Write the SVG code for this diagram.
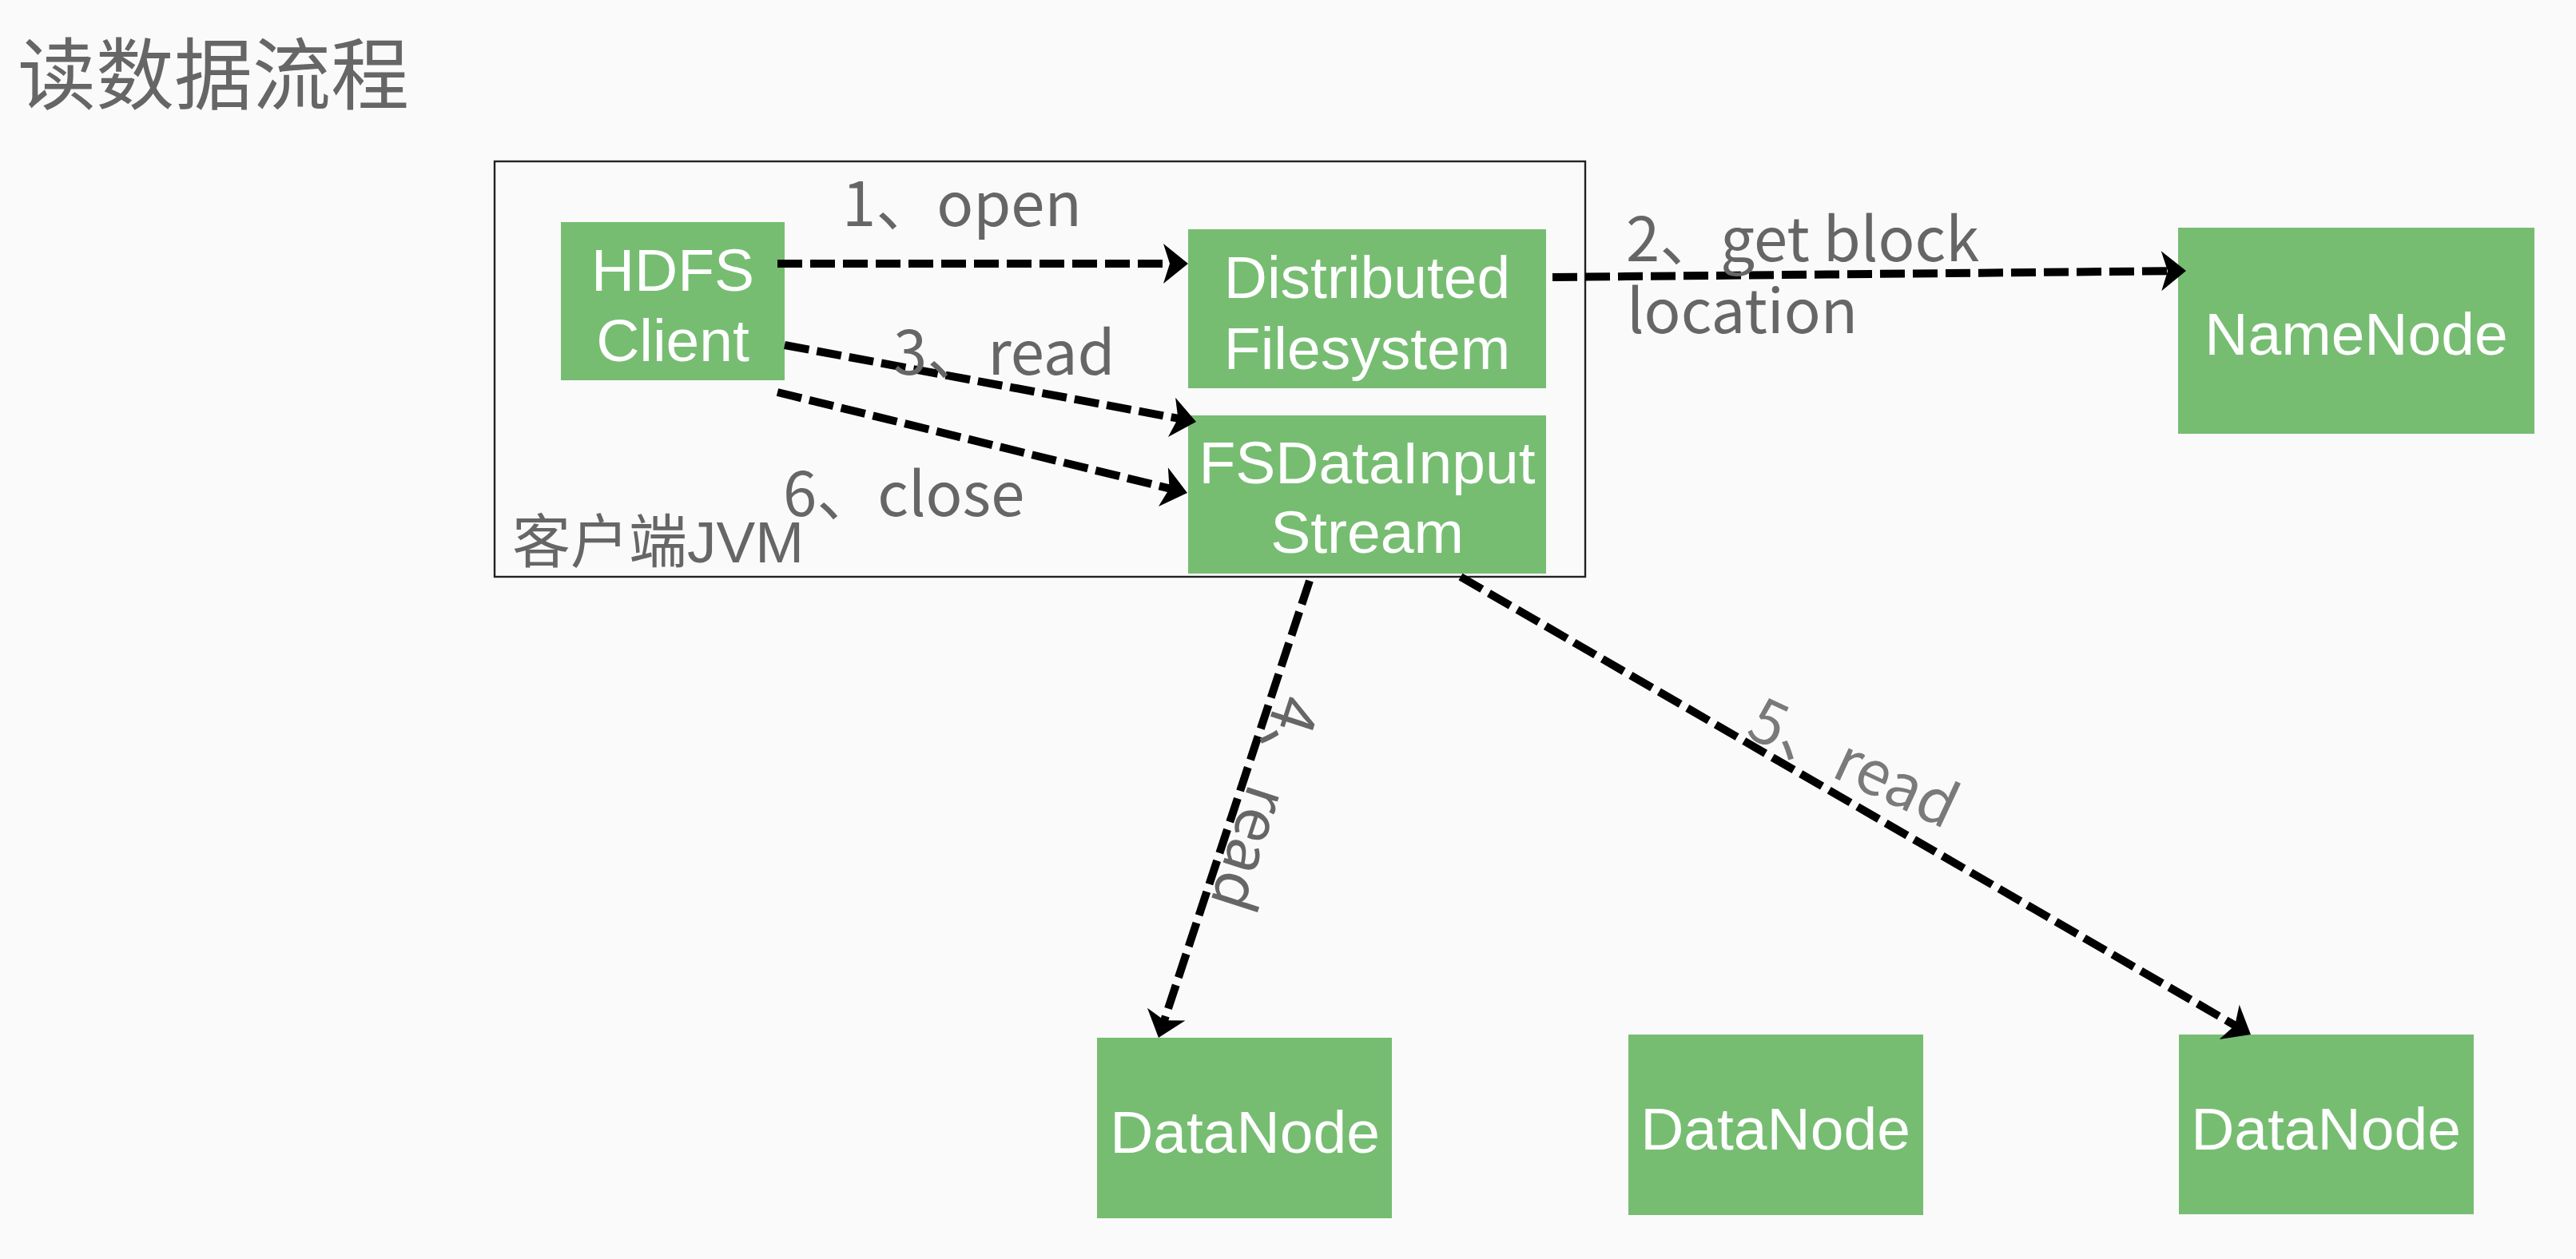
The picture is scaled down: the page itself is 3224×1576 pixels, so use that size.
<svg xmlns="http://www.w3.org/2000/svg" width="3224" height="1576" viewBox="0 0 3224 1576">
  <style>
    .node { fill: #76bd72; }
    .ntext { font-family: "Liberation Sans", Arial, sans-serif; font-size: 75px; fill: #ffffff; text-anchor: middle; }
    .label { font-family: "Noto Sans CJK SC", "Noto Sans", sans-serif; font-size: 76px; fill: #666666; }
    .edge { stroke: #000000; stroke-width: 10; stroke-dasharray: 31 10; fill: none; marker-end: url(#arrow); }
  </style>
  <defs>
    <marker id="arrow" markerUnits="userSpaceOnUse" viewBox="-15 -27 35 54" refX="0" refY="0" markerWidth="35" markerHeight="54" orient="auto">
      <path d="M18,0 L-13,-25 L-5,0 L-13,25 Z" fill="#000000"/>
    </marker>
  </defs>
  <rect x="0" y="0" width="3224" height="1576" fill="#fafafa"/>

  <text id="title" x="22" y="129" font-family="Noto Sans CJK SC, sans-serif" font-size="98" fill="#666666">读数据流程</text>

  <g id="jvm">
    <rect x="619" y="202" width="1365" height="520" fill="none" stroke="#222222" stroke-width="2.4"/>
    <text x="641" y="704" font-family="Liberation Sans, Noto Sans CJK SC, sans-serif" font-size="73" fill="#666666">客户端JVM</text>
  </g>

  <g id="hdfs-client">
    <rect class="node" x="702" y="278" width="280" height="198"/>
    <text class="ntext" x="842" y="364">HDFS</text>
    <text class="ntext" x="842" y="452">Client</text>
  </g>
  <g id="distributed-filesystem">
    <rect class="node" x="1487" y="287" width="448" height="199"/>
    <text class="ntext" x="1711" y="373">Distributed</text>
    <text class="ntext" x="1711" y="462">Filesystem</text>
  </g>
  <g id="fsdatainputstream">
    <rect class="node" x="1487" y="520" width="448" height="198"/>
    <text class="ntext" x="1711" y="605">FSDataInput</text>
    <text class="ntext" x="1711" y="692">Stream</text>
  </g>
  <g id="namenode">
    <rect class="node" x="2726" y="285" width="446" height="258"/>
    <text class="ntext" x="2949" y="444">NameNode</text>
  </g>
  <g id="datanode-1">
    <rect class="node" x="1373" y="1299" width="369" height="226"/>
    <text class="ntext" x="1558" y="1443">DataNode</text>
  </g>
  <g id="datanode-2">
    <rect class="node" x="2038" y="1295" width="369" height="226"/>
    <text class="ntext" x="2222" y="1439">DataNode</text>
  </g>
  <g id="datanode-3">
    <rect class="node" x="2727" y="1295" width="369" height="225"/>
    <text class="ntext" x="2911" y="1439">DataNode</text>
  </g>

  <g id="connectors">
    <line class="edge" x1="973" y1="330" x2="1469" y2="330"/>
    <line class="edge" x1="1943" y1="347" x2="2718" y2="339.2"/>
    <line class="edge" x1="982" y1="432" x2="1479.3" y2="524.7"/>
    <line class="edge" x1="973" y1="491" x2="1468.5" y2="612.7"/>
    <line class="edge" x1="1639" y1="727" x2="1455.6" y2="1281.9"/>
    <line class="edge" x1="1828" y1="722" x2="2801.4" y2="1286"/>
  </g>

  <g id="labels">
    <text class="label" x="1054" y="283">1、open</text>
    <text class="label" x="2035" y="327">2、get block</text>
    <text class="label" x="2036" y="417">location</text>
    <text class="label" x="1118" y="469">3、read</text>
    <text class="label" x="980" y="646">6、close</text>
    <text class="label" transform="translate(1600,866) rotate(108)" x="0" y="0">4、read</text>
    <text class="label" transform="translate(2183,921) rotate(25)" x="0" y="0" style="fill:#7a7a7a">5、read</text>
  </g>
</svg>
